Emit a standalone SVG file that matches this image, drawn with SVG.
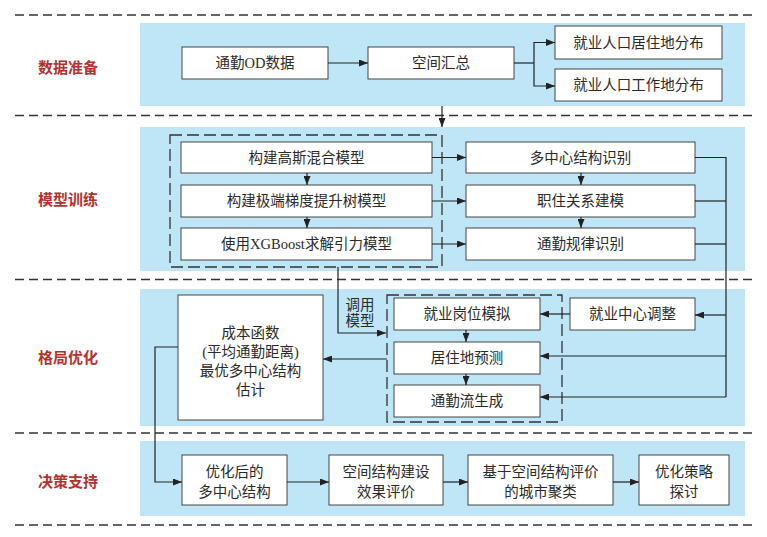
<svg xmlns="http://www.w3.org/2000/svg" width="767" height="537" viewBox="0 0 767 537">
<defs>
<marker id="ah" markerWidth="9" markerHeight="7" refX="9" refY="3.5" orient="auto" markerUnits="userSpaceOnUse">
<path d="M0,0 L9,3.5 L0,7 z" fill="#222"/>
</marker>
<style>
.sep{stroke:#333;stroke-width:1.3;stroke-dasharray:9 5;fill:none}
.band{fill:#bfe6f7}
.box{fill:#fff;stroke:#444;stroke-width:1}
.dbox{fill:none;stroke:#333;stroke-width:1.3;stroke-dasharray:12 5}
.t{font-family:"Liberation Serif","Noto Sans CJK SC",serif;font-size:14.5px;fill:#2a2a2a;text-anchor:middle;dominant-baseline:central}
.sec{font-family:"Noto Sans CJK SC",sans-serif;font-size:15px;font-weight:bold;fill:#b5302e;text-anchor:middle;dominant-baseline:central}
.c{fill:none;stroke:#222;stroke-width:1.2}
.a{marker-end:url(#ah)}
</style>
</defs>
<g id="background">
<rect class="band" x="140" y="23" width="605" height="83"/>
<rect class="band" x="140" y="127" width="605" height="144"/>
<rect class="band" x="140" y="289" width="605" height="137"/>
<rect class="band" x="140" y="441" width="605" height="75"/>
<line class="sep" x1="15" y1="15" x2="752" y2="15"/>
<line class="sep" x1="15" y1="115.5" x2="752" y2="115.5"/>
<line class="sep" x1="15" y1="279.5" x2="752" y2="279.5"/>
<line class="sep" x1="15" y1="433" x2="752" y2="433"/>
<line class="sep" x1="15" y1="525" x2="752" y2="525"/>
<text class="sec" x="68" y="66">数据准备</text>
<text class="sec" x="68" y="198">模型训练</text>
<text class="sec" x="68" y="356">格局优化</text>
<text class="sec" x="68" y="480">决策支持</text>
<rect class="dbox" x="170" y="135" width="272" height="132"/>
<rect class="dbox" x="387" y="295" width="175" height="127"/>
<text class="t" x="360" y="305">调用</text>
<text class="t" x="360" y="321">模型</text>
</g>
<g id="n_od"><rect class="box" x="182" y="47" width="146" height="32"/><text class="t" x="255" y="63">通勤OD数据</text></g>
<g id="n_hz"><rect class="box" x="368" y="47" width="146" height="32"/><text class="t" x="441" y="63">空间汇总</text></g>
<g id="n_jz"><rect class="box" x="555" y="26" width="167" height="33"/><text class="t" x="638.5" y="42.5">就业人口居住地分布</text></g>
<g id="n_gz"><rect class="box" x="555" y="69" width="167" height="32"/><text class="t" x="638.5" y="85">就业人口工作地分布</text></g>
<g id="n_gs"><rect class="box" x="181" y="142" width="251" height="31"/><text class="t" x="306.5" y="157.5">构建高斯混合模型</text></g>
<g id="n_jd"><rect class="box" x="181" y="185" width="251" height="32"/><text class="t" x="306.5" y="201">构建极端梯度提升树模型</text></g>
<g id="n_xg"><rect class="box" x="181" y="228" width="251" height="32"/><text class="t" x="306.5" y="244">使用XGBoost求解引力模型</text></g>
<g id="n_dzx"><rect class="box" x="466" y="142" width="229" height="31"/><text class="t" x="580.5" y="157.5">多中心结构识别</text></g>
<g id="n_zz"><rect class="box" x="466" y="185" width="229" height="32"/><text class="t" x="580.5" y="201">职住关系建模</text></g>
<g id="n_tq"><rect class="box" x="466" y="228" width="229" height="32"/><text class="t" x="580.5" y="244">通勤规律识别</text></g>
<g id="n_cb"><rect class="box" x="178" y="295" width="145" height="125"/>
<text class="t" x="250.5" y="333">成本函数</text>
<text class="t" x="250.5" y="352">(平均通勤距离)</text>
<text class="t" x="250.5" y="371">最优多中心结构</text>
<text class="t" x="250.5" y="390">估计</text></g>
<g id="n_gw"><rect class="box" x="394" y="298" width="146" height="32"/><text class="t" x="467" y="314">就业岗位模拟</text></g>
<g id="n_jzd"><rect class="box" x="394" y="342" width="146" height="32"/><text class="t" x="467" y="358">居住地预测</text></g>
<g id="n_tql"><rect class="box" x="394" y="385" width="146" height="32"/><text class="t" x="467" y="401">通勤流生成</text></g>
<g id="n_zx"><rect class="box" x="570" y="298" width="125" height="32"/><text class="t" x="632.5" y="314">就业中心调整</text></g>
<g id="n_yh"><rect class="box" x="182" y="455" width="105" height="50"/><text class="t" x="234.5" y="472">优化后的</text><text class="t" x="234.5" y="492">多中心结构</text></g>
<g id="n_pj"><rect class="box" x="329" y="455" width="114" height="50"/><text class="t" x="386" y="472">空间结构建设</text><text class="t" x="386" y="492">效果评价</text></g>
<g id="n_jl"><rect class="box" x="468" y="455" width="145" height="50"/><text class="t" x="540.5" y="472">基于空间结构评价</text><text class="t" x="540.5" y="492">的城市聚类</text></g>
<g id="n_cl"><rect class="box" x="639" y="455" width="90" height="50"/><text class="t" x="684" y="472">优化策略</text><text class="t" x="684" y="492">探讨</text></g>
<g id="connectors">
<line class="c a" x1="328" y1="63" x2="368" y2="63"/>
<polyline class="c" points="514,63 534,63"/>
<polyline class="c a" points="534,63 534,42.5 555,42.5"/>
<polyline class="c a" points="534,63 534,86 555,86"/>
<line class="c a" x1="442" y1="106" x2="442" y2="127"/>
<line class="c a" x1="432" y1="157.5" x2="466" y2="157.5"/>
<line class="c a" x1="432" y1="201" x2="466" y2="201"/>
<line class="c a" x1="432" y1="244" x2="466" y2="244"/>
<line class="c a" x1="307" y1="173" x2="307" y2="185"/>
<line class="c a" x1="307" y1="217" x2="307" y2="228"/>
<line class="c a" x1="581" y1="173" x2="581" y2="185"/>
<line class="c a" x1="581" y1="217" x2="581" y2="228"/>
<polyline class="c" points="695,157.5 726,157.5 726,397"/>
<line class="c" x1="695" y1="201" x2="726" y2="201"/>
<line class="c" x1="695" y1="244" x2="726" y2="244"/>
<line class="c a" x1="726" y1="315" x2="695" y2="315"/>
<line class="c a" x1="726" y1="356" x2="540" y2="356"/>
<line class="c a" x1="726" y1="397" x2="540" y2="397"/>
<line class="c a" x1="570" y1="314" x2="540" y2="314"/>
<polyline class="c a" points="338,267 338,333 386,333"/>
<line class="c a" x1="387" y1="359" x2="323" y2="359"/>
<line class="c a" x1="466" y1="330" x2="466" y2="342"/>
<line class="c a" x1="466" y1="374" x2="466" y2="385"/>
<polyline class="c a" points="178,347 155,347 155,482 182,482"/>
<line class="c a" x1="287" y1="482" x2="329" y2="482"/>
<line class="c a" x1="443" y1="482" x2="468" y2="482"/>
<line class="c a" x1="613" y1="482" x2="639" y2="482"/>
</g>
</svg>
